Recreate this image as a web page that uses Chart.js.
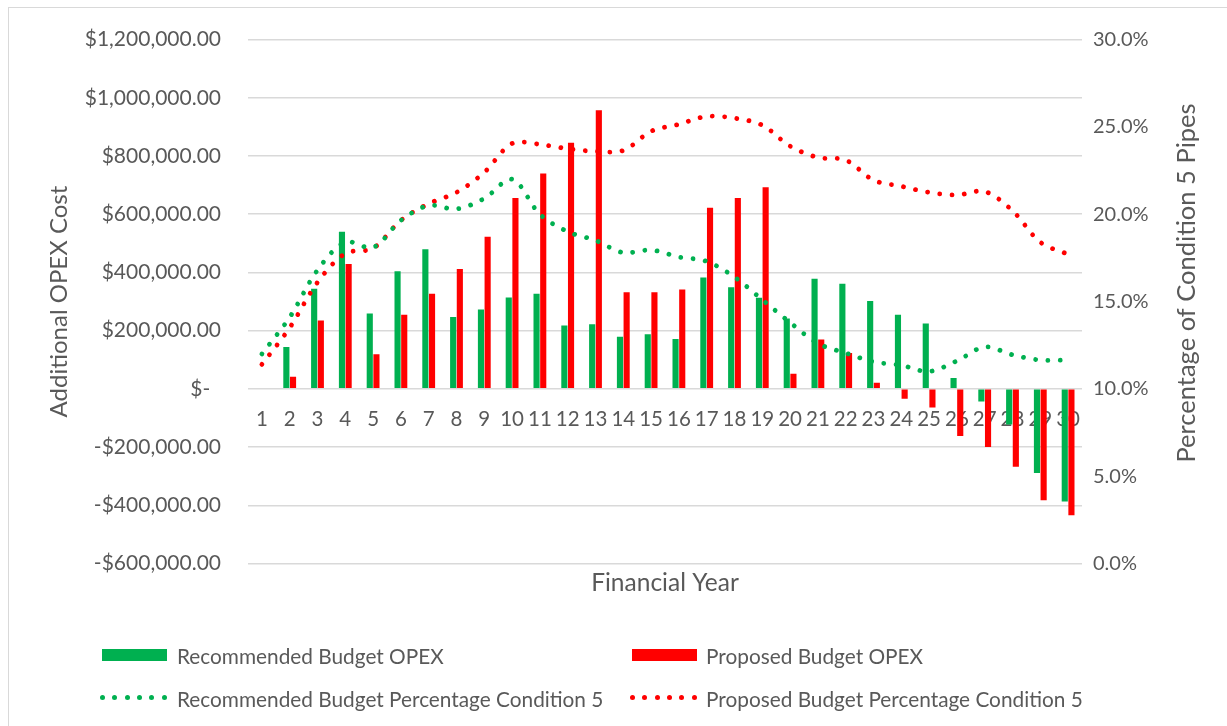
<!DOCTYPE html>
<html>
<head>
<meta charset="utf-8">
<script src="https://cdn.jsdelivr.net/npm/chart.js@4.4.1/dist/chart.umd.min.js"></script>
<style>
html,body{margin:0;padding:0;background:#fff;}
#wrap{position:relative;width:1227px;height:726px;overflow:hidden;font-family:Lato,"Noto Sans",sans-serif;color:#595959;}
#frame{position:absolute;left:8px;top:7px;width:1260px;height:760px;border:1px solid #d9d9d9;box-sizing:border-box;}
#c{position:absolute;left:0;top:0;}
.item{position:absolute;display:flex;align-items:center;height:24px;font-size:20.8px;white-space:nowrap;}
.box{width:65px;height:12px;}
.dots{width:65px;height:6px;position:relative;}
.dots span{position:absolute;top:0;width:5px;height:5px;border-radius:50%;}
</style>
</head>
<body>
<div id="wrap">
  <div id="frame"></div>
  <canvas id="c" width="1227" height="726"></canvas>
  <div id="legend"></div>
</div>
<script>
// ---- data ----
const years = ['1','2','3','4','5','6','7','8','9','10','11','12','13','14','15','16','17','18','19','20','21','22','23','24','25','26','27','28','29','30'];
const recommendedOpex = [0,144000,344000,540000,259000,404000,480000,247000,273000,314000,327000,218000,222000,179000,188000,171000,383000,349000,313000,242000,378000,361000,302000,255000,225000,37000,-43000,-122000,-289000,-387000];
const proposedOpex = [0,42000,235000,429000,119000,255000,327000,412000,523000,656000,740000,846000,957000,332000,332000,341000,622000,656000,693000,52000,170000,123000,21000,-34000,-64000,-162000,-200000,-268000,-383000,-434000];
const recommendedPct = [12.0,14.1,16.8,18.4,18.1,19.65,20.5,20.3,20.9,22.0,20.0,19.0,18.5,17.8,17.95,17.55,17.3,16.4,15.1,13.8,12.6,12.05,11.55,11.35,11.0,11.6,12.4,11.95,11.65,11.65];
const proposedPct = [11.4,13.5,16.1,17.75,18.05,19.65,20.6,21.25,22.4,24.05,24.0,23.75,23.6,23.65,24.75,25.15,25.6,25.5,25.1,23.9,23.25,23.1,21.95,21.6,21.25,21.1,21.3,20.2,18.4,17.7];
const seriesNames = ['Recommended Budget OPEX','Proposed Budget OPEX','Recommended Budget Percentage Condition 5','Proposed Budget Percentage Condition 5'];
const leftTitle = 'Additional OPEX Cost';
const rightTitle = 'Percentage of Condition 5 Pipes';
const xTitle = 'Financial Year';

const GREEN = '#00B050', RED = '#FF0000', TXT = '#595959', GRID = '#D9D9D9';
const FONT = 'Lato';

function money(v){
  if (v === 0) return '$-\u00a0\u00a0';
  const s = Math.abs(v).toLocaleString('en-US',{minimumFractionDigits:2,maximumFractionDigits:2});
  return (v < 0 ? '-' : '') + '$' + s;
}

const lineStyle = {
  type: 'line', yAxisID: 'y1', borderWidth: 4.8, borderDash: [0.01, 12.3],
  borderCapStyle: 'round', pointRadius: 0, pointHoverRadius: 0, tension: 0.33, fill: false, order: 0
};

// right-axis title reading bottom-to-top (as in the original)
const rightTitlePlugin = {
  id: 'rightTitle',
  afterDraw(chart) {
    const s = chart.scales.y1, ctx = chart.ctx;
    ctx.save();
    ctx.translate(s.right - 40, 283);
    ctx.rotate(-Math.PI / 2);
    ctx.font = '25.5px ' + FONT;
    ctx.fillStyle = TXT;
    ctx.textAlign = 'center';
    ctx.textBaseline = 'middle';
    ctx.fillText(rightTitle, 0, 0);
    ctx.restore();
  }
};

new Chart(document.getElementById('c'), {
  data: {
    labels: years,
    datasets: [
      {type:'bar', label: seriesNames[0], data: recommendedOpex, backgroundColor: GREEN, yAxisID:'y', order: 1,
       categoryPercentage: 0.48, barPercentage: 0.92},
      {type:'bar', label: seriesNames[1], data: proposedOpex, backgroundColor: RED, yAxisID:'y', order: 1,
       categoryPercentage: 0.48, barPercentage: 0.92},
      Object.assign({label: seriesNames[2], data: recommendedPct, borderColor: GREEN}, lineStyle),
      Object.assign({label: seriesNames[3], data: proposedPct, borderColor: RED}, lineStyle)
    ]
  },
  plugins: [rightTitlePlugin],
  options: {
    responsive: false,
    animation: false,
    devicePixelRatio: 1,
    layout: {padding: {left: 0, right: 0, top: 34, bottom: 127.8}},
    plugins: {
      legend: {display: false},
      tooltip: {enabled: false},
      title: {display: true, text: xTitle, position: 'bottom', fullSize: false, color: TXT,
              font: {family: FONT, size: 24.5, weight: 'normal'}, padding: {top: 5.3, bottom: 0}}
    },
    scales: {
      x: {
        type: 'category', position: {y: 0},
        grid: {display: false, drawTicks: false}, border: {display: false},
        ticks: {color: TXT, font: {family: FONT, size: 20.5}, padding: 18, maxRotation: 0, autoSkip: false}
      },
      y: {
        position: 'left', min: -600000, max: 1200000,
        afterFit: s => { s.width = 248; },
        grid: {color: GRID, lineWidth: 1.5, drawTicks: false}, border: {display: false},
        ticks: {stepSize: 200000, color: TXT, font: {family: FONT, size: 21}, padding: 27, callback: v => money(v)},
        title: {display: true, text: leftTitle, color: TXT, font: {family: FONT, size: 24}, padding: {top: 44.6, bottom: 0}}
      },
      y1: {
        position: 'right', min: 0, max: 30,
        afterFit: s => { s.width = 145; },
        grid: {display: false, drawTicks: false}, border: {display: false},
        ticks: {stepSize: 5, color: TXT, font: {family: FONT, size: 20}, padding: 11, callback: v => v.toFixed(1) + '%'},
        title: {display: false, text: rightTitle}
      }
    }
  }
});

// ---- HTML legend (2 x 2 grid) ----
const legendItems = [
  {name: seriesNames[0], color: GREEN, kind: 'box',  left: 102, textLeft: 177, cy: 655},
  {name: seriesNames[1], color: RED,   kind: 'box',  left: 632, textLeft: 706, cy: 655},
  {name: seriesNames[2], color: GREEN, kind: 'dots', left: 100, textLeft: 177, cy: 698},
  {name: seriesNames[3], color: RED,   kind: 'dots', left: 630, textLeft: 706, cy: 698}
];
const lg = document.getElementById('legend');
legendItems.forEach(it => {
  const d = document.createElement('div');
  d.className = 'item';
  d.style.left = it.left + 'px';
  d.style.top = (it.cy - 12) + 'px';
  const m = document.createElement('div');
  if (it.kind === 'box') {
    m.className = 'box'; m.style.background = it.color;
  } else {
    m.className = 'dots';
    for (let i = 0; i < 6; i++) {
      const s = document.createElement('span');
      s.style.left = (i * 12.3) + 'px'; s.style.background = it.color;
      m.appendChild(s);
    }
  }
  m.style.marginRight = (it.textLeft - it.left - 65) + 'px';
  const t = document.createElement('span');
  t.textContent = it.name;
  d.appendChild(m); d.appendChild(t);
  lg.appendChild(d);
});
</script>
</body>
</html>
